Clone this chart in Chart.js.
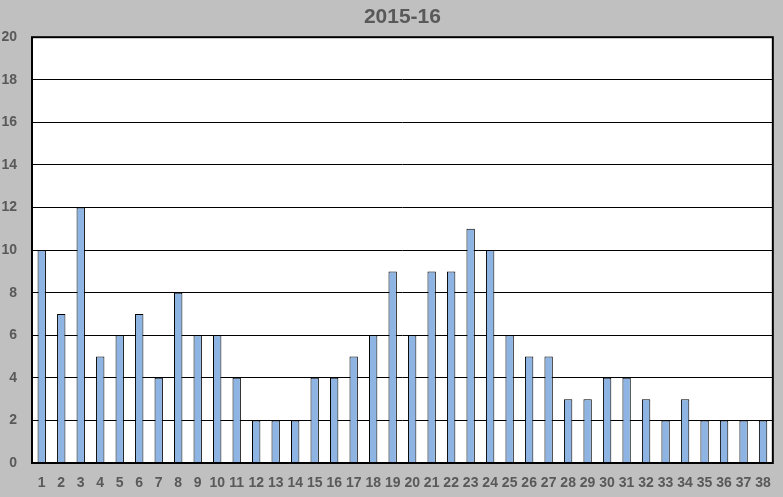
<!DOCTYPE html>
<html>
<head>
<meta charset="utf-8">
<script src="https://cdn.jsdelivr.net/npm/chart.js@4"></script>
<style>
  html, body { margin: 0; padding: 0; background: #c0c0c0; }
  #wrap { width: 783px; height: 497px; }
</style>
</head>
<body>
<div id="wrap"><canvas id="seasonChart"></canvas></div>
<script>
const labels = ['1','2','3','4','5','6','7','8','9','10','11','12','13','14','15','16','17','18','19',
    '20','21','22','23','24','25','26','27','28','29','30','31','32','33','34','35','36','37','38'];
const values = [10, 7, 12, 5, 6, 7, 4, 8, 6, 6, 4, 2, 2, 2, 4, 4, 5, 6, 9,
    6, 9, 9, 11, 10, 6, 5, 5, 3, 3, 4, 4, 3, 2, 3, 2, 2, 2, 2];
const yTicks = [0, 2, 4, 6, 8, 10, 12, 14, 16, 18, 20];
const chartTitle = '2015-16';

const textColor = '#595959';
const tickFont = { family: 'Liberation Sans', size: 14, weight: 'bold' };

// gray page, white plot area and black frame
const framePlugin = {
    id: 'frame',
    beforeDraw(chart) {
        const c = chart.ctx;
        const a = chart.chartArea;
        c.save();
        c.fillStyle = '#c0c0c0';
        c.fillRect(0, 0, chart.width, chart.height);
        c.fillStyle = '#ffffff';
        c.fillRect(a.left, a.top, a.right - a.left, a.bottom - a.top);
        c.restore();
    },
    afterDatasetsDraw(chart) {
        const c = chart.ctx;
        const a = chart.chartArea;
        c.save();
        c.strokeStyle = '#000000';
        c.lineWidth = 2;
        c.strokeRect(a.left, a.top, a.right - a.left, a.bottom - a.top);
        c.restore();
    }
};

var ctx = document.getElementById('seasonChart').getContext('2d');

new Chart(ctx, {
    type: 'bar',
    data: {
        labels: labels,
        datasets: [{
            data: values,
            backgroundColor: '#8db4e2',
            borderColor: '#000000',
            borderWidth: 1,
            categoryPercentage: 1,
            barPercentage: 0.43
        }]
    },
    options: {
        responsive: true,
        maintainAspectRatio: false,
        animation: false,
        layout: { padding: { left: 0, right: 10, top: 0, bottom: 0 } },
        plugins: {
            legend: { display: false },
            tooltip: { enabled: false },
            title: {
                display: true,
                fullSize: false,
                text: chartTitle,
                color: textColor,
                font: { family: 'Liberation Sans', size: 21, weight: 'bold' },
                padding: { top: 5, bottom: 7 }
            }
        },
        scales: {
            x: {
                grid: { display: false, drawTicks: false },
                border: { display: false },
                ticks: { color: textColor, font: tickFont, padding: 12, maxRotation: 0, autoSkip: false },
                afterFit(scale) { scale.height = 34; }
            },
            y: {
                min: 0,
                max: 20,
                afterBuildTicks(scale) { scale.ticks = yTicks.map(v => ({ value: v })); },
                grid: { color: '#000000', lineWidth: 1, drawTicks: false },
                border: { display: false },
                ticks: { color: textColor, font: tickFont, padding: 15 },
                afterFit(scale) { scale.width = 32; }
            }
        }
    },
    plugins: [framePlugin]
});
</script>
</body>
</html>
